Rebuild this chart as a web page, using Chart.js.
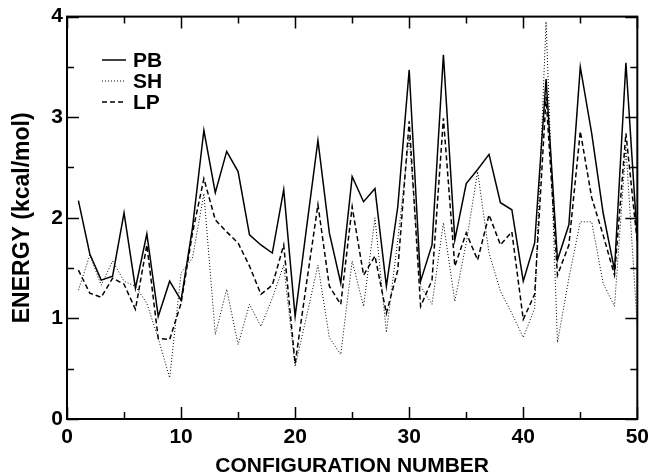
<!DOCTYPE html>
<html>
<head>
<meta charset="utf-8">
<script src="https://cdn.jsdelivr.net/npm/chart.js@4"></script>
<style>
  html, body { margin: 0; padding: 0; background: #fff; }
  #wrap { width: 655px; height: 474px; }
</style>
</head>
<body>
<div id="wrap"><canvas id="myChart" width="655" height="474"></canvas></div>
<script>
// configuration numbers (x)
const configs = [1,2,3,4,5,6,7,8,9,10,11,12,13,14,15,16,17,18,19,20,21,22,23,24,25,
  26,27,28,29,30,31,32,33,34,35,36,37,38,39,40,41,42,43,44,45,46,47,48,49,50];

// energies in kcal/mol
const pbValues = [2.17,1.64,1.38,1.42,2.05,1.30,1.84,1.02,1.37,1.18,
  1.90,2.87,2.25,2.66,2.46,1.83,1.73,1.65,2.28,1.02,
  1.90,2.77,1.85,1.35,2.41,2.16,2.29,1.32,2.11,3.47,
  1.37,1.73,3.62,1.78,2.34,2.48,2.63,2.15,2.08,1.37,
  1.75,3.38,1.58,1.93,3.50,2.84,2.05,1.48,3.54,1.78];
const shValues = [1.28,1.63,1.33,1.57,1.37,1.32,1.15,0.80,0.41,1.45,
  1.60,2.24,0.84,1.29,0.74,1.14,0.92,1.20,1.53,0.52,
  1.02,1.53,0.81,0.64,1.57,1.12,2.00,0.86,1.78,2.80,
  1.32,1.14,1.95,1.17,1.75,2.46,1.65,1.27,1.05,0.81,
  1.10,3.95,0.76,1.40,1.96,1.96,1.35,1.12,2.70,0.92];
const lpValues = [1.48,1.25,1.21,1.40,1.34,1.09,1.73,0.80,0.79,1.15,
  1.85,2.39,1.98,1.86,1.75,1.52,1.24,1.33,1.73,0.55,
  1.35,2.13,1.32,1.14,2.11,1.43,1.62,1.05,1.48,2.96,
  1.12,1.38,2.99,1.52,1.85,1.58,2.03,1.73,1.86,0.99,
  1.24,3.20,1.43,1.73,2.86,2.20,1.83,1.43,2.84,1.75];

const xTicks = [0,10,20,30,40,50];
const yTicks = [0,1,2,3,4];

const FONT = '"Liberation Sans", Arial, sans-serif';

function pts(vals) {
  return configs.map((c, i) => ({x: c, y: vals[i]}));
}

// box frame with inward ticks on all four sides
const frameTicks = {
  id: 'frameTicks',
  afterDraw(chart) {
    const {ctx, chartArea: a, scales: {x, y}} = chart;
    ctx.save();
    ctx.strokeStyle = '#000';
    ctx.lineWidth = 2;
    ctx.strokeRect(a.left, a.top, a.right - a.left, a.bottom - a.top);
    ctx.lineWidth = 1.5;
    ctx.beginPath();
    for (let v = 0; v <= 50; v += 5) {
      const px = Math.round(x.getPixelForValue(v)) + 0.5;
      const len = v % 10 === 0 ? 12 : 7;
      ctx.moveTo(px, a.bottom); ctx.lineTo(px, a.bottom - len);
      ctx.moveTo(px, a.top); ctx.lineTo(px, a.top + len);
    }
    for (let v = 0; v <= 4; v += 0.5) {
      const py = Math.round(y.getPixelForValue(v)) + 0.5;
      const len = v % 1 === 0 ? 12 : 7;
      ctx.moveTo(a.left, py); ctx.lineTo(a.left + len, py);
      ctx.moveTo(a.right, py); ctx.lineTo(a.right - len, py);
    }
    ctx.stroke();

    // legend inside the plot
    chart.data.datasets.forEach((ds, i) => {
      const ly = 60 + i * 21;
      ctx.beginPath();
      ctx.lineWidth = ds.borderWidth;
      ctx.setLineDash(ds.borderDash || []);
      ctx.moveTo(102, ly); ctx.lineTo(126, ly);
      ctx.stroke();
      ctx.setLineDash([]);
      ctx.fillStyle = '#000';
      ctx.font = 'bold 21px ' + FONT;
      ctx.textBaseline = 'middle';
      ctx.fillText(ds.label, 133, ly + 1);
    });
    ctx.restore();
  }
};

new Chart(document.getElementById('myChart').getContext('2d'), {
  type: 'line',
  data: {
    datasets: [
      {label: 'PB', data: pts(pbValues), borderColor: '#000', borderWidth: 1.5, pointRadius: 0, tension: 0},
      {label: 'SH', data: pts(shValues), borderColor: '#000', borderWidth: 1, borderDash: [1, 2], pointRadius: 0, tension: 0},
      {label: 'LP', data: pts(lpValues), borderColor: '#000', borderWidth: 1.5, borderDash: [5, 3], pointRadius: 0, tension: 0}
    ]
  },
  options: {
    responsive: false,
    animation: false,
    layout: {padding: {top: 16, right: 12, left: 0, bottom: 0}},
    plugins: {legend: {display: false}, tooltip: {enabled: false}},
    scales: {
      x: {
        type: 'linear', min: 0, max: 50,
        afterBuildTicks: s => { s.ticks = xTicks.map(v => ({value: v})); },
        afterFit: s => { s.height = 55; },
        grid: {display: false, drawTicks: false},
        border: {display: false},
        ticks: {color: '#000', padding: 6, maxRotation: 0, font: {family: FONT, size: 21, weight: 'bold'}},
        title: {display: true, text: 'CONFIGURATION NUMBER', color: '#000', padding: {top: -5, bottom: -5},
          font: {family: FONT, size: 21, weight: 'bold'}}
      },
      y: {
        min: 0, max: 4,
        afterBuildTicks: s => { s.ticks = yTicks.map(v => ({value: v})); },
        afterFit: s => { s.width = 67; },
        grid: {display: false, drawTicks: false},
        border: {display: false},
        ticks: {color: '#000', padding: 4, font: {family: FONT, size: 21, weight: 'bold'}},
        title: {display: true, text: 'ENERGY (kcal/mol)', color: '#000', padding: {top: 9, bottom: 9},
          font: {family: FONT, size: 23, weight: 'bold'}}
      }
    }
  },
  plugins: [frameTicks]
});
</script>
</body>
</html>
